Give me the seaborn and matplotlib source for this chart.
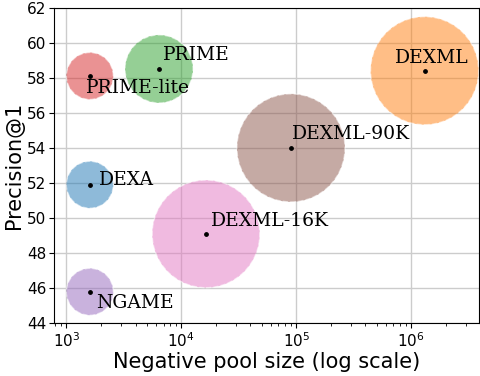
import seaborn as sns
import matplotlib.pyplot as plt
import pandas as pd

methods = ['DEXA', 'DEXML', 'PRIME', 'PRIME-lite', 'NGAME', 'DEXML-90K', 'DEXML-16K']
pool_size = [1600, 1.31e6, 6400, 1600, 1600, 90000, 16400]
precision = [51.9, 58.4, 58.5, 58.1, 45.8, 54.0, 49.1]
bubble = [1140, 6050, 2400, 1140, 1140, 6050, 6000]
# label offsets in points
offsets = [(6.5, 0), (-21.6, 5.8), (2.5, 6.5), (-3, -12), (4.3, -12), (0.7, 6.5), (3.6, 5.8)]

df = pd.DataFrame({'method': methods, 'pool': pool_size, 'p1': precision})

fig, ax = plt.subplots(figsize=(4.8, 3.76), dpi=100)
ax.set_axisbelow(True)
ax.grid(True, which='major', color='#cccccc', linewidth=1)

sns.scatterplot(data=df, x='pool', y='p1', hue='method', palette='tab10',
                size='method', sizes=dict(zip(methods, bubble)),
                alpha=0.5, edgecolor='white', linewidth=1, linestyle='--',
                legend=False, ax=ax)
ax.scatter(pool_size, precision, s=6, color='black', zorder=3)

for m, x, y, off in zip(methods, pool_size, precision, offsets):
    ax.annotate(m, (x, y), xytext=off, textcoords='offset points',
                fontsize=13.5, family='DejaVu Serif', va='baseline', ha='left')

ax.set_xscale('log')
ax.set_xlim(780, 3.9e6)
ax.set_ylim(44, 62)
ax.set_yticks(range(44, 63, 2))
ax.tick_params(labelsize=11, pad=2)
ax.set_xlabel('Negative pool size (log scale)', fontsize=15, labelpad=2)
ax.set_ylabel('Precision@1', fontsize=15, labelpad=2)

fig.subplots_adjust(left=0.1125, right=0.998, bottom=0.14, top=0.98)
fig.savefig('out.png', dpi=100)
